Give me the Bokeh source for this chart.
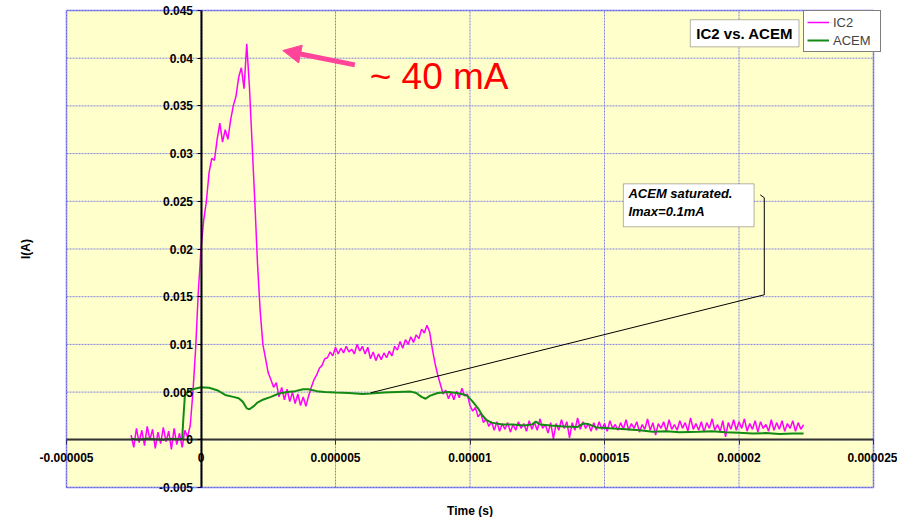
import math
from bokeh.plotting import figure
from bokeh.models import (Range1d, LinearAxis, FixedTicker, CustomJSTickFormatter,
                          Legend, LegendItem, Label, BoxAnnotation, Arrow, NormalHead)
from bokeh.embed import file_html
from bokeh.resources import INLINE

# ---------------- data ----------------
x_ticks = [-0.000005, 0.0, 0.000005, 0.00001, 0.000015, 0.00002, 0.000025]
x_tick_labels = ["-0.000005", "0", "0.000005", "0.00001", "0.000015", "0.00002", "0.000025"]
y_ticks = [-0.005, 0.0, 0.005, 0.01, 0.015, 0.02, 0.025, 0.03, 0.035, 0.04, 0.045]
y_tick_labels = ["-0.005", "0", "0.005", "0.01", "0.015", "0.02", "0.025", "0.03", "0.035", "0.04", "0.045"]

ic2_time_us = [
    -2.6, -2.5, -2.4, -2.3, -2.2, -2.1, -2.0, -1.9, -1.8, -1.7,
    -1.6, -1.5, -1.4, -1.3, -1.2, -1.1, -1.0, -0.9, -0.8, -0.7,
    -0.6, -0.5, -0.4, -0.3, -0.2, -0.1, 0.0, 0.1, 0.2, 0.3,
    0.4, 0.5, 0.6, 0.7, 0.8, 0.9, 1.0, 1.1, 1.2, 1.3,
    1.4, 1.5, 1.6, 1.7, 1.8, 1.9, 2.0, 2.1, 2.2, 2.3,
    2.4, 2.5, 2.6, 2.7, 2.8, 2.9, 3.0, 3.1, 3.2, 3.3,
    3.4, 3.5, 3.6, 3.7, 3.8, 3.9, 4.0, 4.1, 4.2, 4.3,
    4.4, 4.5, 4.6, 4.7, 4.8, 4.9, 5.0, 5.1, 5.2, 5.3,
    5.4, 5.5, 5.6, 5.7, 5.8, 5.9, 6.0, 6.1, 6.2, 6.3,
    6.4, 6.5, 6.6, 6.7, 6.8, 6.9, 7.0, 7.1, 7.2, 7.3,
    7.4, 7.5, 7.6, 7.7, 7.8, 7.9, 8.0, 8.1, 8.2, 8.3,
    8.4, 8.5, 8.6, 8.7, 8.8, 8.9, 9.0, 9.1, 9.2, 9.3,
    9.4, 9.5, 9.6, 9.7, 9.8, 9.9, 10.0, 10.1, 10.2, 10.3,
    10.4, 10.5, 10.6, 10.7, 10.8, 10.9, 11.0, 11.1, 11.2, 11.3,
    11.4, 11.5, 11.6, 11.7, 11.8, 11.9, 12.0, 12.1, 12.2, 12.3,
    12.4, 12.5, 12.6, 12.7, 12.8, 12.9, 13.0, 13.1, 13.2, 13.3,
    13.4, 13.5, 13.6, 13.7, 13.8, 13.9, 14.0, 14.1, 14.2, 14.3,
    14.4, 14.5, 14.6, 14.7, 14.8, 14.9, 15.0, 15.1, 15.2, 15.3,
    15.4, 15.5, 15.6, 15.7, 15.8, 15.9, 16.0, 16.1, 16.2, 16.3,
    16.4, 16.5, 16.6, 16.7, 16.8, 16.9, 17.0, 17.1, 17.2, 17.3,
    17.4, 17.5, 17.6, 17.7, 17.8, 17.9, 18.0, 18.1, 18.2, 18.3,
    18.4, 18.5, 18.6, 18.7, 18.8, 18.9, 19.0, 19.1, 19.2, 19.3,
    19.4, 19.5, 19.6, 19.7, 19.8, 19.9, 20.0, 20.1, 20.2, 20.3,
    20.4, 20.5, 20.6, 20.7, 20.8, 20.9, 21.0, 21.1, 21.2, 21.3,
    21.4, 21.5, 21.6, 21.7, 21.8, 21.9, 22.0, 22.1, 22.2, 22.3,
    22.4,
]
ic2_current_ma = [
    0.5, -0.8, 1.2, -0.3, 1.0, -0.6, 1.4, 0.0, 1.1, -0.9,
    0.8, -0.4, 1.3, -0.2, 0.9, -1.0, 1.2, -0.5, 0.7, -0.8,
    1.0, 0.3, 1.5, 5.0, 9.5, 15.5, 20.0, 23.0, 25.0, 28.0,
    29.5, 29.3, 31.5, 33.2, 31.2, 32.5, 31.5, 33.5, 35.0, 36.0,
    38.0, 39.0, 36.8, 41.5, 37.0, 31.0, 25.0, 18.5, 13.5, 10.0,
    8.5, 7.0, 6.3, 5.5, 6.0, 4.5, 5.5, 4.2, 5.3, 4.0,
    5.0, 3.8, 4.8, 3.6, 4.5, 3.5, 4.6, 5.5, 6.3, 6.8,
    7.5, 7.8, 8.5, 8.6, 9.2, 8.8, 9.7, 9.0, 9.6, 9.1,
    9.8, 9.2, 9.5, 9.0, 10.0, 9.3, 9.8, 9.0, 9.7, 8.5,
    9.2, 8.3, 9.0, 8.4, 9.1, 8.6, 9.3, 8.8, 9.8, 9.4,
    10.3, 9.6, 10.5, 10.0, 10.8, 10.2, 11.0, 10.6, 11.6, 11.2,
    12.0, 11.3, 9.5, 8.0, 6.8, 5.8, 4.8, 5.2, 4.3, 5.0,
    4.2, 5.1, 4.4, 5.4, 4.6, 4.8, 3.6, 3.0, 3.4, 2.4,
    2.8, 1.8, 2.2, 1.4, 1.9, 1.0, 1.9, 0.9, 1.7, 1.1,
    1.8, 0.8, 1.6, 1.0, 1.9, 1.2, 1.7, 0.9, 2.0, 1.1,
    1.8, 1.0, 2.2, 1.2, 1.6, 0.7, 1.8, 0.1, 1.7, 1.0,
    2.1, 1.2, 1.9, 0.2, 1.8, 1.0, 2.3, 1.1, 1.9, 1.2,
    1.7, 0.9, 1.8, 1.0, 1.9, 1.1, 1.7, 0.9, 2.0, 1.2,
    1.6, 1.0, 1.8, 1.1, 2.1, 1.0, 1.7, 1.2, 1.9, 0.8,
    1.6, 1.1, 2.2, 1.0, 1.8, 0.5, 1.7, 1.2, 1.9, 0.9,
    2.1, 1.1, 1.6, 1.0, 2.0, 1.2, 1.8, 0.9, 2.3, 1.1,
    1.7, 1.0, 1.9, 0.8, 1.8, 1.2, 2.2, 1.0, 1.6, 0.9,
    2.0, 0.3, 1.8, 1.1, 2.1, 1.0, 1.9, 1.2, 2.2, 0.9,
    1.7, 1.1, 2.0, 0.8, 1.9, 1.2, 1.6, 0.9, 2.1, 1.0,
    1.8, 1.1, 2.0, 0.9, 1.7, 1.2, 2.0, 0.9, 1.8, 1.1,
    1.6,
]

acem_time_us = [
    -2.6, -2.3, -2.0, -1.7, -1.4, -1.1, -0.8, -0.7, -0.65, -0.6,
    -0.5, -0.3, 0.0, 0.3, 0.6, 0.9, 1.2, 1.4, 1.55, 1.7,
    1.8, 1.95, 2.1, 2.3, 2.6, 2.9, 3.2, 3.5, 3.8, 4.0,
    4.3, 4.6, 5.0, 5.5, 6.0, 6.3, 6.8, 7.3, 7.8, 8.0,
    8.2, 8.35, 8.5, 8.8, 9.2, 9.5, 9.7, 9.9, 10.1, 10.3,
    10.45, 10.6, 10.8, 11.2, 11.6, 12.0, 12.3, 12.45, 12.6, 13.0,
    13.5, 14.0, 14.2, 14.4, 14.7, 15.2, 15.8, 16.3, 16.8, 17.3,
    17.8, 18.5, 19.0, 19.5, 20.0, 20.5, 21.0, 21.5, 22.0, 22.4,
]
acem_current_ma = [
    0.1, 0.0, 0.15, 0.05, 0.0, 0.1, 0.05, 0.1, 2.5, 4.6,
    5.0, 5.3, 5.5, 5.45, 5.2, 4.7, 4.5, 4.35, 4.0, 3.3,
    3.2, 3.5, 3.9, 4.2, 4.5, 4.85, 5.0, 5.1, 5.3, 5.3,
    5.1, 5.0, 4.95, 4.9, 4.8, 4.85, 4.95, 5.0, 5.05, 4.9,
    4.5, 4.3, 4.6, 4.9, 5.0, 4.9, 4.8, 4.6, 4.0, 3.3,
    2.6, 2.1, 1.8, 1.6, 1.6, 1.5, 1.6, 1.9, 1.6, 1.5,
    1.4, 1.35, 1.7, 1.65, 1.3, 1.2, 1.1, 1.0, 0.85, 0.9,
    0.8, 0.85, 0.9, 0.8, 0.75, 0.65, 0.7, 0.6, 0.65, 0.65,
]

# callout leader line (annotation), in us / mA
callout_x_us = [20.79, 20.94, 20.94, 6.31]
callout_y_ma = [25.68, 25.37, 15.2, 4.93]

FONT = "Liberation Sans"

# ---------------- layout (frame covers the whole canvas; plot area drawn inside) ----------------
W, H = 897, 517
AREA_L, AREA_R, AREA_T, AREA_B = 66, 873, 10, 487   # plot-area edges in canvas pixels
x0, x1 = x_ticks[0], x_ticks[-1]
y0, y1 = y_ticks[0], y_ticks[-1]
px_x = (x1 - x0) / (AREA_R - AREA_L)
px_y = (y1 - y0) / (AREA_B - AREA_T)

p = figure(width=W, height=H,
           x_range=Range1d(x0 - AREA_L * px_x, x1 + (W - AREA_R) * px_x),
           y_range=Range1d(y0 - (H - AREA_B) * px_y, y1 + AREA_T * px_y),
           x_axis_type=None, y_axis_type=None,
           output_backend="svg", toolbar_location=None, min_border=0)
p.background_fill_color = "white"
p.border_fill_color = "white"
p.outline_line_color = None
p.xgrid.visible = False
p.ygrid.visible = False

# plot area background
p.add_layout(BoxAnnotation(left=x0, right=x1, bottom=y0, top=y1, fill_color="#FFFFCC",
                           fill_alpha=1, line_color=None, level="underlay"))

# grid lines (from the tick arrays)
p.segment(x0=x_ticks, y0=[y0] * len(x_ticks), x1=x_ticks, y1=[y1] * len(x_ticks),
          line_color="#8080E0", line_width=1, line_dash="2 1")
p.segment(x0=[x0] * len(y_ticks), y0=y_ticks, x1=[x1] * len(y_ticks), y1=y_ticks,
          line_color="#8080E0", line_width=1, line_dash="2 1")

fmt_code = """
let best = 0;
for (let i = 0; i < vals.length; i++) {
  if (Math.abs(vals[i] - tick) < Math.abs(vals[best] - tick)) best = i;
}
return labels[best];
"""

# series
r_ic2 = p.line([t * 1e-6 for t in ic2_time_us], [v * 1e-3 for v in ic2_current_ma],
               line_color="#FF00FF", line_width=1.5)
r_acem = p.line([t * 1e-6 for t in acem_time_us], [v * 1e-3 for v in acem_current_ma],
                line_color="#138A13", line_width=2)

# axes crossing at zero
xaxis = LinearAxis(fixed_location=0, bounds=(x0, x1), ticker=FixedTicker(ticks=x_ticks),
                   formatter=CustomJSTickFormatter(args=dict(vals=x_ticks, labels=x_tick_labels), code=fmt_code),
                   axis_line_color="#333333", axis_line_width=2,
                   major_tick_line_color="#333333", major_tick_line_width=1,
                   major_tick_in=0, major_tick_out=5, minor_tick_line_color=None,
                   major_label_standoff=8,
                   major_label_text_font=FONT, major_label_text_font_style="bold",
                   major_label_text_font_size="12px", major_label_text_color="black")
yaxis = LinearAxis(fixed_location=0, bounds=(y0, y1), ticker=FixedTicker(ticks=y_ticks),
                   formatter=CustomJSTickFormatter(args=dict(vals=y_ticks, labels=y_tick_labels), code=fmt_code),
                   axis_line_color="black", axis_line_width=2,
                   major_tick_line_color="black", major_tick_line_width=1,
                   major_tick_in=0, major_tick_out=4, minor_tick_line_color=None,
                   major_label_standoff=4,
                   major_label_text_font=FONT, major_label_text_font_style="bold",
                   major_label_text_font_size="12px", major_label_text_color="black")
p.add_layout(xaxis, "below")
p.add_layout(yaxis, "left")

# plot-area border
p.add_layout(BoxAnnotation(left=x0, right=x1, bottom=y0, top=y1, fill_alpha=0,
                           line_color="#1F1FFF", line_width=2))

# axis titles
p.add_layout(Label(x=(x0 + x1) / 2, y=y0 - 23 * px_y, text="Time (s)", text_align="center",
                   text_baseline="middle", text_font=FONT, text_font_style="bold",
                   text_font_size="12px", text_color="black"))
p.add_layout(Label(x=x0 - 41 * px_x, y=(y0 + y1) / 2, text="I(A)", angle=math.pi / 2,
                   text_align="center", text_baseline="middle", text_font=FONT,
                   text_font_style="bold", text_font_size="12px", text_color="black"))

# callout
p.line([t * 1e-6 for t in callout_x_us], [v * 1e-3 for v in callout_y_ma],
       line_color="black", line_width=1)
p.add_layout(BoxAnnotation(left=15.70e-6, right=20.56e-6, bottom=22.33e-3, top=26.83e-3,
                           fill_color="white", fill_alpha=1, line_color="black", line_width=1))
p.add_layout(Label(x=15.89e-6, y=26.62e-3, text="ACEM saturated.\nImax=0.1mA",
                   text_align="left", text_baseline="top", text_font=FONT,
                   text_font_style="bold italic", text_font_size="13px", text_color="black"))

# title box
p.add_layout(BoxAnnotation(left=18.19e-6, right=22.23e-6, bottom=41.19e-3, top=44.03e-3,
                           fill_color="white", fill_alpha=1, line_color="black", line_width=1))
p.add_layout(Label(x=20.21e-6, y=42.61e-3, text="IC2 vs. ACEM", text_align="center",
                   text_baseline="middle", text_font=FONT, text_font_style="bold",
                   text_font_size="15px", text_color="black"))

# arrow + note
p.add_layout(Arrow(end=NormalHead(size=18, fill_color="#FF4499", line_color="#FF4499"),
                   x_start=5.72e-6, y_start=39.3e-3, x_end=3.04e-6, y_end=40.8e-3,
                   line_color="#FF4499", line_width=5))
p.add_layout(Label(x=6.27e-6, y=38.1e-3, text="~ 40 mA", text_align="left",
                   text_baseline="alphabetic", text_font=FONT, text_font_size="37px",
                   text_color="#FF0000"))

# legend
legend = Legend(items=[LegendItem(label="IC2", renderers=[r_ic2]),
                       LegendItem(label="ACEM", renderers=[r_acem])],
                location=(803, H - 52), orientation="vertical",
                label_text_font=FONT, label_text_font_size="13px",
                glyph_width=22, glyph_height=16, label_height=16, label_width=44,
                label_standoff=4, spacing=2, padding=3, margin=0,
                border_line_color="black", border_line_width=1,
                background_fill_color="white", background_fill_alpha=1)
p.add_layout(legend, "center")

open("out.html", "w").write(file_html(p, INLINE))
